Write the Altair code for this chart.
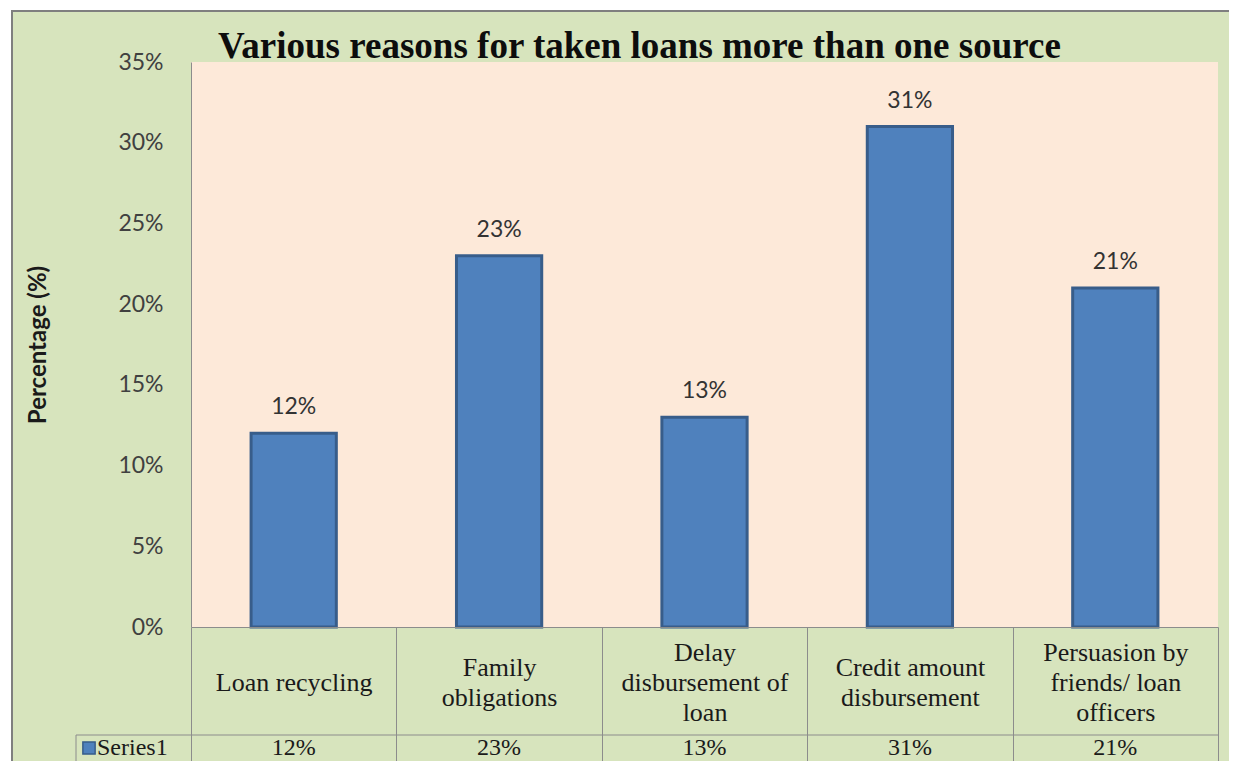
import altair as alt
import pandas as pd

categories = [
    "Loan recycling",
    "Family|obligations",
    "Delay|disbursement of|loan",
    "Credit amount|disbursement",
    "Persuasion by|friends/ loan|officers",
]
values = [0.12, 0.23, 0.13, 0.31, 0.21]
y_ticks = [0.0, 0.05, 0.10, 0.15, 0.20, 0.25, 0.30, 0.35]
series_name = "Series1"
title_text = "Various reasons for taken loans more than one source"

df = pd.DataFrame({"reason": categories, "pct": values})

W, H = 1027, 565
GREEN = "#d7e4bd"
PEACH = "#fde9d9"
LINE = "#8c8c8c"
SERIF = "Liberation Serif"
SANS = "Lato"

x = alt.X(
    "reason:N",
    sort=categories,
    scale=alt.Scale(paddingInner=0, paddingOuter=0),
    axis=alt.Axis(
        title=None,
        zindex=1,
        labelAngle=0,
        labelExpr="split(datum.label, '|')",
        labelFont=SERIF,
        labelFontSize=26,
        labelColor="#1a1a1a",
        labelLineHeight=30,
        labelBaseline="middle",
        labelPadding={
            "condition": [
                {"test": "length(split(datum.label, '|')) == 3", "value": -117},
                {"test": "length(split(datum.label, '|')) == 2", "value": -102},
            ],
            "value": -87,
        },
        labelLimit=300,
        labelOverlap=False,
        labelFlush=False,
        labelBound=False,
        tickBand="extent",
        tickSize=142,
        tickColor=LINE,
        tickWidth=1,
        domainColor=LINE,
        domainWidth=1,
    ),
)

y = alt.Y(
    "pct:Q",
    scale=alt.Scale(domain=[0, 0.35], nice=False),
    axis=alt.Axis(
        title="Percentage (%)",
        zindex=1,
        titleFont=SANS,
        titleFontSize=24,
        titleFontWeight="bold",
        titleColor="#1a1a1a",
        titleX=-153,
        titleBaseline="middle",
        values=y_ticks,
        format=".0%",
        labelFont=SANS,
        labelFontSize=23,
        labelColor="#404040",
        labelPadding=28,
        ticks=False,
        grid=False,
        domainColor=LINE,
        domainWidth=1,
    ),
)

base = alt.Chart(df)
one = alt.Chart(alt.Data(values=[{"s": series_name, "t": title_text}]))

frame = one.mark_rect(fill=GREEN, stroke="#7f7f7f", strokeWidth=2).encode(
    x=alt.value(-179), x2=alt.value(1100), y=alt.value(-51), y2=alt.value(760)
)
plot_bg = one.mark_rect(fill=PEACH).encode(
    x=alt.value(0), x2=alt.value(W), y=alt.value(0), y2=alt.value(H)
)

bars = base.mark_bar(
    width=alt.RelativeBandSize(0.415),
    color="#4f81bd",
    stroke="#385d8a",
    strokeWidth=3,
).encode(x=x, y=y)

labels = base.mark_text(
    font=SANS, fontSize=23, color="#333333", baseline="alphabetic", dy=-19
).encode(x=alt.X("reason:N", sort=categories), y="pct:Q", text=alt.Text("pct:Q", format=".0%"))

row_vals = base.mark_text(
    font=SERIF, fontSize=24, color="#1a1a1a", baseline="middle"
).encode(
    x=alt.X("reason:N", sort=categories),
    y=alt.value(H + 121),
    text=alt.Text("pct:Q", format=".0%"),
)

row_sep = one.mark_rule(color=LINE, strokeWidth=1).encode(
    x=alt.value(-115), x2=alt.value(W), y=alt.value(H + 108)
)
left_border = one.mark_rule(color=LINE, strokeWidth=1).encode(
    x=alt.value(-115), y=alt.value(H + 108), y2=alt.value(H + 200)
)
legend_sq = one.mark_square(
    size=150, color="#4f81bd", stroke="#385d8a", strokeWidth=1.5, opacity=1
).encode(x=alt.value(-102), y=alt.value(H + 121))
legend_txt = one.mark_text(
    font=SERIF, fontSize=24, color="#1a1a1a", align="left", baseline="middle"
).encode(x=alt.value(-94), y=alt.value(H + 121), text="s:N")

title = one.mark_text(
    font=SERIF, fontSize=37, fontWeight="bold", color="#0d0d0d",
    align="left", baseline="alphabetic",
).encode(x=alt.value(27), y=alt.value(-4), text="t:N")

chart = (
    alt.layer(frame, plot_bg, bars, labels, row_vals, row_sep, left_border,
              legend_sq, legend_txt, title)
    .properties(
        width=W,
        height=H,
        autosize=alt.AutoSizeParams(type="none"),
        padding={"left": 183, "top": 54, "right": 11, "bottom": 134},
        background="white",
    )
    .configure_view(fill=None, stroke=None)
)

chart.save("out.html", embed_options={"renderer": "svg", "actions": False})
